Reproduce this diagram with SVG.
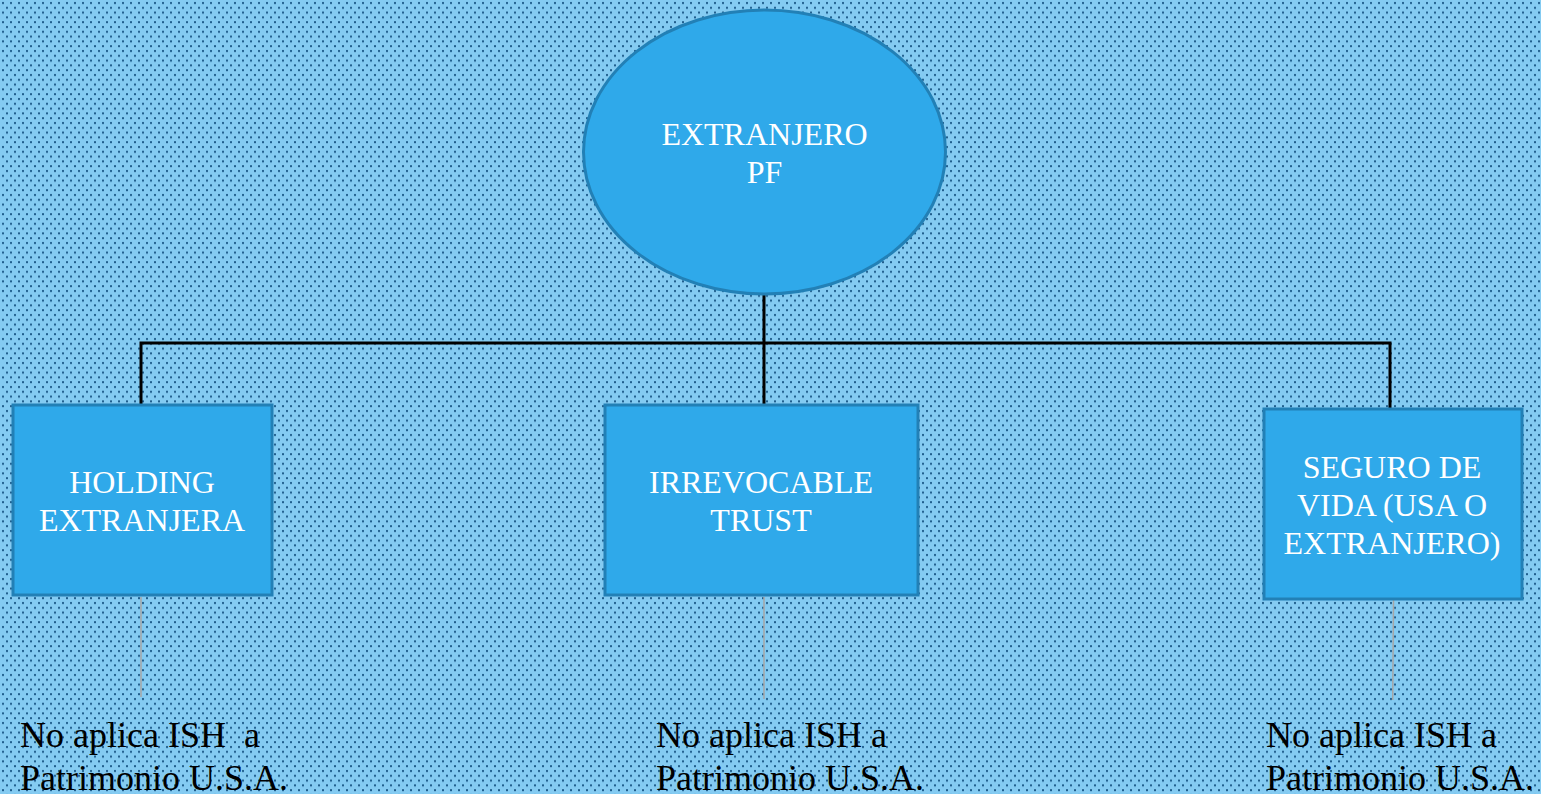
<svg xmlns="http://www.w3.org/2000/svg" width="1541" height="794" viewBox="0 0 1541 794">
<defs>
<pattern id="dots" width="8" height="9.6" patternUnits="userSpaceOnUse">
<rect width="8" height="9.6" fill="#84cbf2"/>
<rect x="2" y="2" width="2" height="2" fill="#1f5d8c"/>
<rect x="6" y="6.8" width="2" height="2" fill="#1f5d8c"/>
</pattern>
<style>
.node{fill:#2fa9ea;stroke:#2280b6;stroke-width:3}
.ntext{font-family:"Liberation Serif","Times New Roman",serif;font-size:32px;fill:#ffffff;text-anchor:middle}
.note{font-family:"Liberation Serif","Times New Roman",serif;font-size:36px;fill:#000000}
.conn{stroke:#000000;stroke-width:3;fill:none}
.thin{stroke:#a6a6a6;stroke-width:1.5;fill:none}
</style>
</defs>
<rect width="1541" height="794" fill="url(#dots)"/>
<g id="connectors">
<path class="conn" d="M764,295 V404"/>
<path class="conn" d="M141,404 V343 H1390 V408"/>
<path class="thin" d="M141,597 V697"/>
<path class="thin" d="M764,597 V699"/>
<path class="thin" d="M1393.5,600 L1392.7,700"/>
</g>
<g id="root">
<ellipse class="node" cx="764.5" cy="152" rx="181" ry="142"/>
<text class="ntext" x="764.5" y="145">EXTRANJERO</text>
<text class="ntext" x="764.5" y="183">PF</text>
</g>
<g id="holding">
<rect class="node" x="13" y="405" width="259" height="190"/>
<text class="ntext" x="142" y="493">HOLDING</text>
<text class="ntext" x="142" y="531">EXTRANJERA</text>
</g>
<g id="trust">
<rect class="node" x="605" y="405" width="313" height="190"/>
<text class="ntext" x="761" y="493">IRREVOCABLE</text>
<text class="ntext" x="761" y="531">TRUST</text>
</g>
<g id="seguro">
<rect class="node" x="1264" y="409" width="258" height="190"/>
<text class="ntext" x="1392" y="478">SEGURO DE</text>
<text class="ntext" x="1392" y="516">VIDA (USA O</text>
<text class="ntext" x="1392" y="554">EXTRANJERO)</text>
</g>
<g id="note1">
<text class="note" x="20" y="747" xml:space="preserve">No aplica ISH  a</text>
<text class="note" x="20" y="790">Patrimonio U.S.A.</text>
</g>
<g id="note2">
<text class="note" x="656" y="747">No aplica ISH a</text>
<text class="note" x="656" y="790">Patrimonio U.S.A.</text>
</g>
<g id="note3">
<text class="note" x="1266" y="747">No aplica ISH a</text>
<text class="note" x="1266" y="790">Patrimonio U.S.A.</text>
</g>
</svg>
